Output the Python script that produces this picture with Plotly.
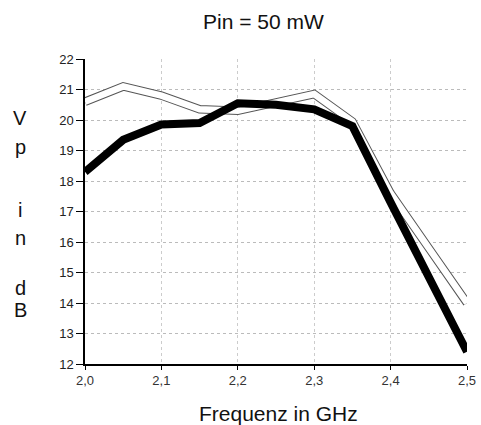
import plotly.graph_objects as go

freq = [2.0, 2.05, 2.1, 2.15, 2.2, 2.25, 2.3, 2.35, 2.4, 2.45, 2.5]
v_black = [18.3, 19.35, 19.85, 19.9, 20.55, 20.5, 20.35, 19.8, 17.3, 14.9, 12.4]
v_white = [20.6, 21.1, 20.8, 20.35, 20.3, 20.55, 20.85, 19.95, 17.6, 15.8, 14.0]

x_ticks = [2.0, 2.1, 2.2, 2.3, 2.4, 2.5]
x_ticktext = ["2,0", "2,1", "2,2", "2,3", "2,4", "2,5"]
y_ticks = list(range(12, 23))

W, H = 481, 425
L, R, T, B = 85, 14, 59, 61
PW, PH = W - L - R, H - T - B

def px(xpix):
    return (xpix - L) / PW

def py(ypix):
    return (H - B - ypix) / PH

fig = go.Figure()
# hollow (outlined white) line
fig.add_trace(go.Scatter(x=freq, y=v_white, mode="lines",
                         line=dict(color="#555555", width=8.5), hoverinfo="skip", showlegend=False))
fig.add_trace(go.Scatter(x=freq, y=v_white, mode="lines",
                         line=dict(color="white", width=6.5), showlegend=False))
# thick black line
fig.add_trace(go.Scatter(x=freq, y=v_black, mode="lines",
                         line=dict(color="black", width=8), showlegend=False))

font = "Liberation Sans, Arial, sans-serif"
fig.update_layout(
    width=W, height=H,
    margin=dict(l=L, r=R, t=T, b=B, autoexpand=False),
    paper_bgcolor="white", plot_bgcolor="white",
    font=dict(family=font, color="#222222"),
    xaxis=dict(range=[2.0, 2.5], tickvals=x_ticks, ticktext=x_ticktext, automargin=False,
               showline=True, linecolor="black", linewidth=1.5,
               ticks="outside", ticklen=4, tickcolor="black",
               showgrid=True, gridcolor="#cccccc", griddash="dot", gridwidth=1,
               zeroline=False, tickfont=dict(size=13, color="#333333")),
    yaxis=dict(range=[12, 22], tickvals=y_ticks, automargin=False,
               showline=True, linecolor="black", linewidth=1.5,
               ticks="outside", ticklen=7, tickcolor="black",
               showgrid=True, gridcolor="#bbbbbb", griddash="dot", gridwidth=1,
               zeroline=False, tickfont=dict(size=13, color="#222222")),
)

# chart title
fig.add_annotation(text="Pin = 50 mW", xref="paper", yref="paper", x=px(263), y=py(22),
                   showarrow=False, xanchor="center", yanchor="middle",
                   font=dict(size=21, family=font, color="#111111"))
# x-axis title
fig.add_annotation(text="Frequenz in GHz", xref="paper", yref="paper", x=px(278), y=py(413),
                   showarrow=False, xanchor="center", yanchor="middle",
                   font=dict(size=21, family=font, color="#111111"))

# stacked y-axis title letters
letters = [("V", 118), ("p", 147), ("i", 210), ("n", 238), ("d", 288), ("B", 310)]
for ch, ypix in letters:
    fig.add_annotation(text=ch, xref="paper", yref="paper", x=px(20), y=py(ypix),
                       showarrow=False, xanchor="center", yanchor="middle",
                       font=dict(size=20, family=font, color="#111111"))

fig.write_html("out.html", config={"displayModeBar": False},
               post_script="document.body.style.margin='0px';")
